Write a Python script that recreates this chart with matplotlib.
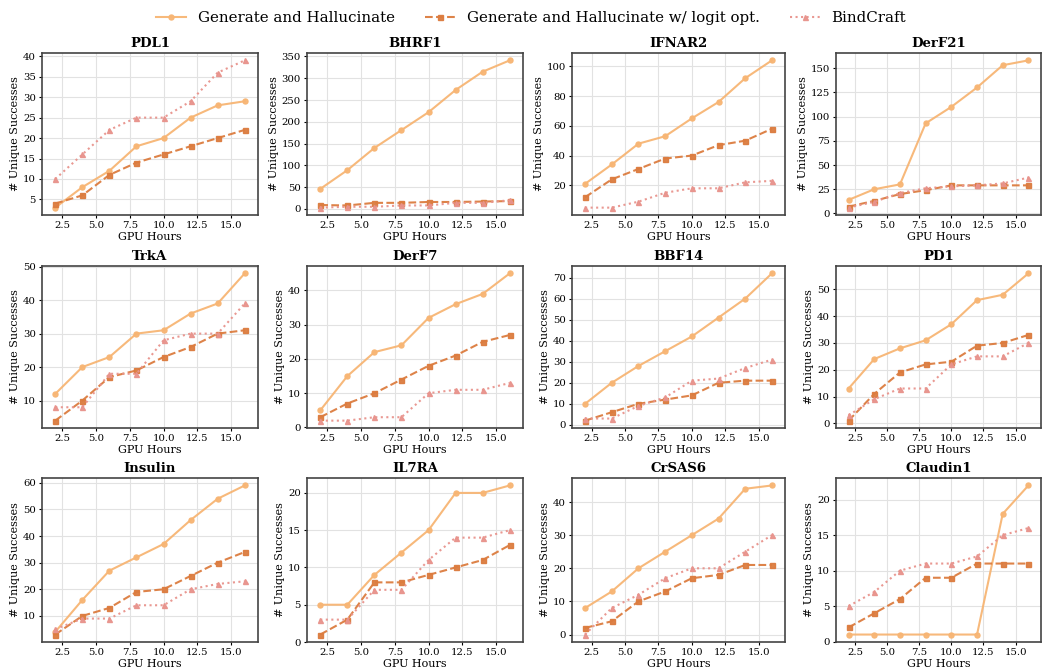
import matplotlib
matplotlib.use("Agg")
import matplotlib.pyplot as plt
from matplotlib.ticker import MaxNLocator

plt.rcParams['font.family'] = ['DejaVu Serif']

hours = [2, 4, 6, 8, 10, 12, 14, 16]
targets = ["PDL1", "BHRF1", "IFNAR2", "DerF21",
           "TrkA", "DerF7", "BBF14", "PD1",
           "Insulin", "IL7RA", "CrSAS6", "Claudin1"]

gen_halluc = {
    "PDL1": [3, 8, 12, 18, 20, 25, 28, 29],
    "BHRF1": [46, 89, 140, 181, 222, 273, 315, 341],
    "IFNAR2": [21, 34, 48, 53, 65, 76, 92, 104],
    "DerF21": [14, 25, 30, 93, 110, 130, 153, 158],
    "TrkA": [12, 20, 23, 30, 31, 36, 39, 48],
    "DerF7": [5, 15, 22, 24, 32, 36, 39, 45],
    "BBF14": [10, 20, 28, 35, 42, 51, 60, 72],
    "PD1": [13, 24, 28, 31, 37, 46, 48, 56],
    "Insulin": [4, 16, 27, 32, 37, 46, 54, 59],
    "IL7RA": [5, 5, 9, 12, 15, 20, 20, 21],
    "CrSAS6": [8, 13, 20, 25, 30, 35, 44, 45],
    "Claudin1": [1, 1, 1, 1, 1, 1, 18, 22],
}
gen_halluc_logit = {
    "PDL1": [4, 6, 11, 14, 16, 18, 20, 22],
    "BHRF1": [9, 8, 14, 14, 16, 16, 17, 18],
    "IFNAR2": [12, 24, 31, 38, 40, 47, 50, 58],
    "DerF21": [7, 13, 20, 24, 29, 29, 29, 29],
    "TrkA": [4, 10, 17, 19, 23, 26, 30, 31],
    "DerF7": [3, 7, 10, 14, 18, 21, 25, 27],
    "BBF14": [2, 6, 10, 12, 14, 20, 21, 21],
    "PD1": [1, 11, 19, 22, 23, 29, 30, 33],
    "Insulin": [3, 10, 13, 19, 20, 25, 30, 34],
    "IL7RA": [1, 3, 8, 8, 9, 10, 11, 13],
    "CrSAS6": [2, 4, 10, 13, 17, 18, 21, 21],
    "Claudin1": [2, 4, 6, 9, 9, 11, 11, 11],
}
bindcraft = {
    "PDL1": [10, 16, 22, 25, 25, 29, 36, 39],
    "BHRF1": [3, 5, 5, 8, 8, 14, 14, 20],
    "IFNAR2": [5, 5, 9, 15, 18, 18, 22, 23],
    "DerF21": [6, 12, 21, 26, 28, 29, 31, 37],
    "TrkA": [8, 8, 18, 18, 28, 30, 30, 39],
    "DerF7": [2, 2, 3, 3, 10, 11, 11, 13],
    "BBF14": [3, 3, 9, 13, 21, 22, 27, 31],
    "PD1": [3, 9, 13, 13, 22, 25, 25, 30],
    "Insulin": [5, 9, 9, 14, 14, 20, 22, 23],
    "IL7RA": [3, 3, 7, 7, 11, 14, 14, 15],
    "CrSAS6": [0, 8, 12, 17, 20, 20, 25, 30],
    "Claudin1": [5, 7, 10, 11, 11, 12, 15, 16],
}

series = [
    ("Generate and Hallucinate", gen_halluc, "#F7B574", "-", "o"),
    ("Generate and Hallucinate w/ logit opt.", gen_halluc_logit, "#DC7C3F", "--", "s"),
    ("BindCraft", bindcraft, "#E8938C", ":", "^"),
]

W, H = 1043, 671
fig = plt.figure(figsize=(W / 100, H / 100), dpi=100)

col_px = [(42, 258), (307, 523), (572, 785), (836, 1041)]
row_px = [(53, 215), (266, 428), (478, 642)]

handles = []
for i, t in enumerate(targets):
    r, c = divmod(i, 4)
    x0, x1 = col_px[c]
    y0, y1 = row_px[r]
    ax = fig.add_axes([x0 / W, 1 - y1 / H, (x1 - x0) / W, (y1 - y0) / H])
    for name, d, color, ls, mk in series:
        ln, = ax.plot(hours, d[t], color=color, linestyle=ls, marker=mk,
                      markersize=3.6, linewidth=1.5, label=name, alpha=0.95)
        if i == 0:
            handles.append(ln)
    ax.margins(x=0.07)
    ax.set_title(t, fontsize=9.5, fontweight='bold', pad=4)
    ax.set_xlabel("GPU Hours", fontsize=8, labelpad=1)
    ax.set_ylabel("# Unique Successes", fontsize=8, labelpad=2)
    ax.tick_params(labelsize=7.3, length=2.5, width=0.8, pad=2)
    ax.set_xticks([2.5, 5.0, 7.5, 10.0, 12.5, 15.0])
    ax.yaxis.set_major_locator(MaxNLocator(nbins=8, steps=[1, 2, 2.5, 5, 10]))
    ax.grid(True, color="#e2e2e2", linewidth=0.8)
    ax.set_axisbelow(True)
    for s in ax.spines.values():
        s.set_color("#444444")
        s.set_linewidth(1.2)

fig.legend(handles=handles, labels=[s[0] for s in series], loc="center",
           bbox_to_anchor=(531 / W, 1 - 18 / H), ncol=3, frameon=False,
           fontsize=10.8, handlelength=2.0, columnspacing=2.0)

fig.savefig("out.png", dpi=100)
